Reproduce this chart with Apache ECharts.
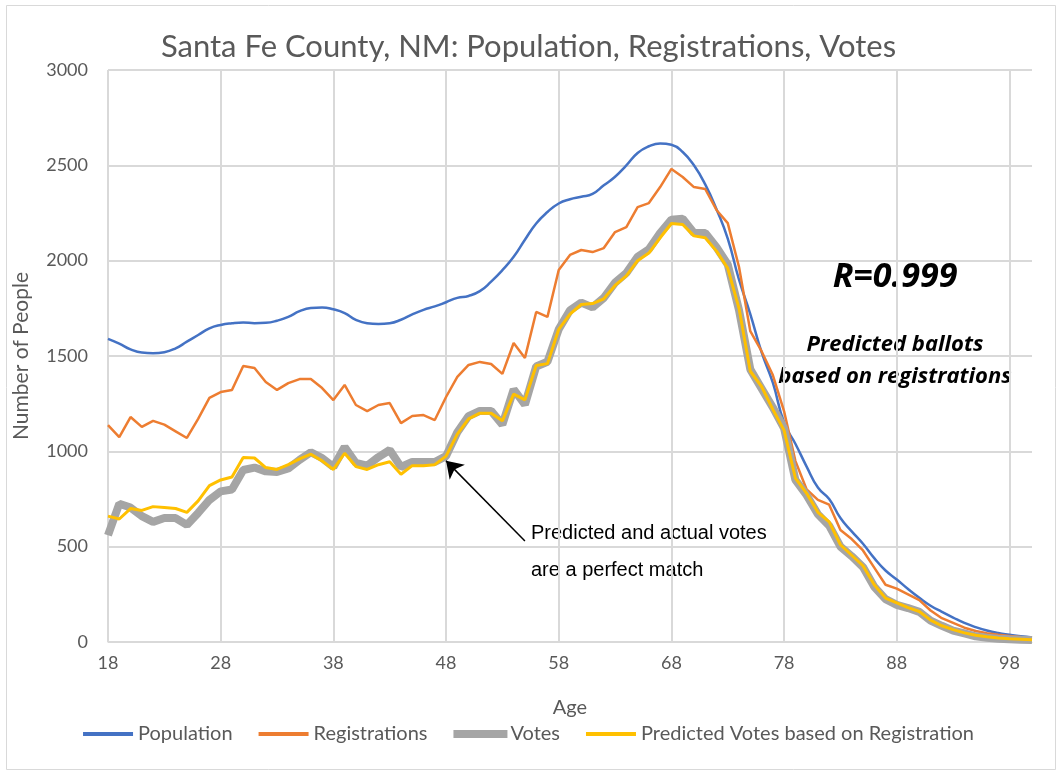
<!DOCTYPE html>
<html>
<head>
<meta charset="utf-8">
<script src="https://cdn.jsdelivr.net/npm/echarts@6/dist/echarts.min.js"></script>
<style>
  html, body { margin: 0; padding: 0; background: #fff; }
  #chart { width: 1057px; height: 771px; }
</style>
</head>
<body>
<div id="chart"></div>
<script>
// ages 18..100
const ages = [];
for (let a = 18; a <= 100; a++) ages.push(String(a));

const population = [
  1590, 1565, 1535, 1518, 1515, 1520, 1540, 1575, 1610, 1645,
  1663, 1672, 1676, 1672, 1674, 1685, 1705, 1735, 1752, 1755,
  1745, 1725, 1690, 1672, 1668, 1672, 1690, 1718, 1742, 1760,
  1782, 1805, 1815, 1840, 1890, 1950, 2020, 2110, 2195, 2255,
  2300, 2322, 2335, 2350, 2395, 2440, 2500, 2565, 2600, 2615,
  2608, 2570, 2500, 2400, 2270, 2115, 1900, 1720, 1520, 1360,
  1150, 1040, 920, 810, 750, 650, 580, 515, 440, 375,
  328, 278, 232, 190, 158, 128, 100, 78, 60, 47,
  38, 30, 24
];

const registrations = [
  1138, 1075, 1180, 1128, 1160, 1140, 1105, 1070, 1170, 1280,
  1311, 1322, 1448, 1437, 1364, 1322, 1358, 1379, 1379, 1332,
  1269, 1348, 1243, 1211, 1243, 1253, 1148, 1185, 1190, 1164,
  1285, 1390, 1453, 1469, 1458, 1406, 1568, 1490, 1731, 1705,
  1951, 2030, 2056, 2045, 2066, 2150, 2176, 2281, 2302, 2386,
  2481, 2439, 2386, 2376, 2266, 2197, 1967, 1630, 1525, 1400,
  1210, 950, 800, 745, 720, 587, 540, 480, 390, 300,
  280, 250, 220, 165, 125, 100, 75, 58, 46, 38,
  32, 26, 22
];

const votes = [
  560, 725, 705, 660, 630, 650, 650, 614, 677, 745,
  790, 800, 902, 915, 895, 892, 910, 955, 995, 965,
  918, 1023, 939, 925, 970, 1007, 918, 944, 944, 944,
  975, 1100, 1185, 1212, 1212, 1140, 1325, 1245, 1445, 1470,
  1640, 1740, 1780, 1755, 1805, 1885, 1935, 2020, 2060, 2145,
  2215, 2220, 2145, 2145, 2070, 1980, 1740, 1430, 1330, 1230,
  1120, 850, 770, 670, 610, 500, 450, 393, 290, 225,
  195, 178, 158, 112, 85, 60, 45, 30, 22, 17,
  14, 12, 10
];

const predicted = [
  660, 645, 700, 690, 710, 705, 700, 680, 740, 820,
  850, 865, 968, 965, 915, 905, 930, 960, 985, 950,
  905, 990, 920, 905, 930, 945, 880, 925, 925, 930,
  975, 1090, 1170, 1200, 1200, 1160, 1300, 1270, 1450, 1460,
  1640, 1720, 1770, 1775, 1800, 1870, 1920, 2000, 2040, 2120,
  2195, 2190, 2130, 2120, 2050, 1960, 1750, 1420, 1340, 1220,
  1110, 860, 780, 680, 630, 510, 455, 400, 300, 230,
  205, 180, 160, 115, 85, 65, 48, 35, 27, 21,
  17, 15, 12
];

const yTicks = [0, 500, 1000, 1500, 2000, 2500, 3000];

const txt = '#595959';
const font = 'Lato, "Liberation Sans", sans-serif';
const noteFont = '"Liberation Sans", Arial, sans-serif';
const boldItalic = '"Open Sans", "Noto Sans", sans-serif';

const chart = echarts.init(document.getElementById('chart'));
chart.setOption({
  animation: false,
  backgroundColor: '#fff',
  title: {
    text: 'Santa Fe County, NM: Population, Registrations, Votes',
    left: 'center',
    top: 26,
    textStyle: { color: txt, fontSize: 31, fontWeight: 'normal', fontFamily: font }
  },
  grid: { left: 108, right: 25, top: 70, bottom: 129, containLabel: false, outerBoundsMode: 'none' },
  xAxis: {
    type: 'category',
    data: ages,
    boundaryGap: false,
    name: 'Age',
    nameLocation: 'middle',
    nameGap: 56,
    nameTextStyle: { color: txt, fontSize: 20, fontFamily: font },
    axisLine: { lineStyle: { color: '#d9d9d9', width: 1 } },
    axisTick: { show: false },
    axisLabel: { interval: 9, color: txt, fontSize: 18, fontFamily: font, margin: 12 },
    splitLine: { show: true, interval: 9, lineStyle: { color: '#d9d9d9', width: 2 } }
  },
  yAxis: {
    type: 'value',
    min: yTicks[0],
    max: yTicks[yTicks.length - 1],
    interval: 500,
    name: 'Number of People',
    nameLocation: 'middle',
    nameGap: 76,
    nameTextStyle: { color: txt, fontSize: 21, fontFamily: font },
    axisLine: { show: false },
    axisTick: { show: false },
    axisLabel: { color: txt, fontSize: 18, fontFamily: font, margin: 20, formatter: v => String(v) },
    splitLine: { lineStyle: { color: '#d9d9d9', width: 2 } }
  },
  legend: {
    bottom: 22,
    left: 'center',
    icon: 'rect',
    itemWidth: 50,
    itemHeight: 4,
    itemGap: 26,
    textStyle: { color: txt, fontSize: 20, fontFamily: font },
    data: [
      { name: 'Population' },
      { name: 'Registrations' },
      { name: 'Votes', itemStyle: { borderColor: '#A5A5A5', borderWidth: 4 } },
      { name: 'Predicted Votes based on Registration' }
    ]
  },
  series: [
    {
      name: 'Population', type: 'line', data: population, smooth: true,
      showSymbol: false, symbol: 'none',
      lineStyle: { color: '#4472C4', width: 2.5 }, itemStyle: { color: '#4472C4' }
    },
    {
      name: 'Registrations', type: 'line', data: registrations,
      showSymbol: false, symbol: 'none',
      lineStyle: { color: '#ED7D31', width: 2.5 }, itemStyle: { color: '#ED7D31' }
    },
    {
      name: 'Votes', type: 'line', data: votes,
      showSymbol: false, symbol: 'none',
      lineStyle: { color: '#A5A5A5', width: 8 }, itemStyle: { color: '#A5A5A5' }
    },
    {
      name: 'Predicted Votes based on Registration', type: 'line', data: predicted,
      showSymbol: false, symbol: 'none',
      lineStyle: { color: '#FFC000', width: 3 }, itemStyle: { color: '#FFC000' },
      markLine: {
        silent: true,
        symbol: ['none', 'arrow'],
        symbolSize: 16,
        label: { show: false },
        lineStyle: { color: '#000', width: 1.5, type: 'solid' },
        data: [[{ coord: [37, 530] }, { coord: [30, 950] }]]
      }
    }
  ],
  graphic: [
    { type: 'rect', left: 4, top: 3, shape: { width: 1049, height: 764 },
      style: { fill: 'none', stroke: '#d9d9d9', lineWidth: 1 }, silent: true },
    { type: 'text', x: 531, y: 533,
      style: { text: 'Predicted and actual votes', fill: '#000', verticalAlign: 'middle', font: '20px ' + noteFont } },
    { type: 'text', x: 531, y: 570,
      style: { text: 'are a perfect match', fill: '#000', verticalAlign: 'middle', font: '20px ' + noteFont } },
    { type: 'text', x: 895, y: 277,
      style: { text: 'R=0.999', fill: '#000', align: 'center', verticalAlign: 'middle',
        font: 'italic bold 34px ' + boldItalic } },
    { type: 'text', x: 895, y: 345,
      style: { text: 'Predicted ballots', fill: '#000', align: 'center', verticalAlign: 'middle',
        font: 'italic bold 22px ' + boldItalic } },
    { type: 'text', x: 895, y: 377,
      style: { text: 'based on registrations', fill: '#000', align: 'center', verticalAlign: 'middle',
        font: 'italic bold 22px ' + boldItalic } }
  ]
});
</script>
</body>
</html>
